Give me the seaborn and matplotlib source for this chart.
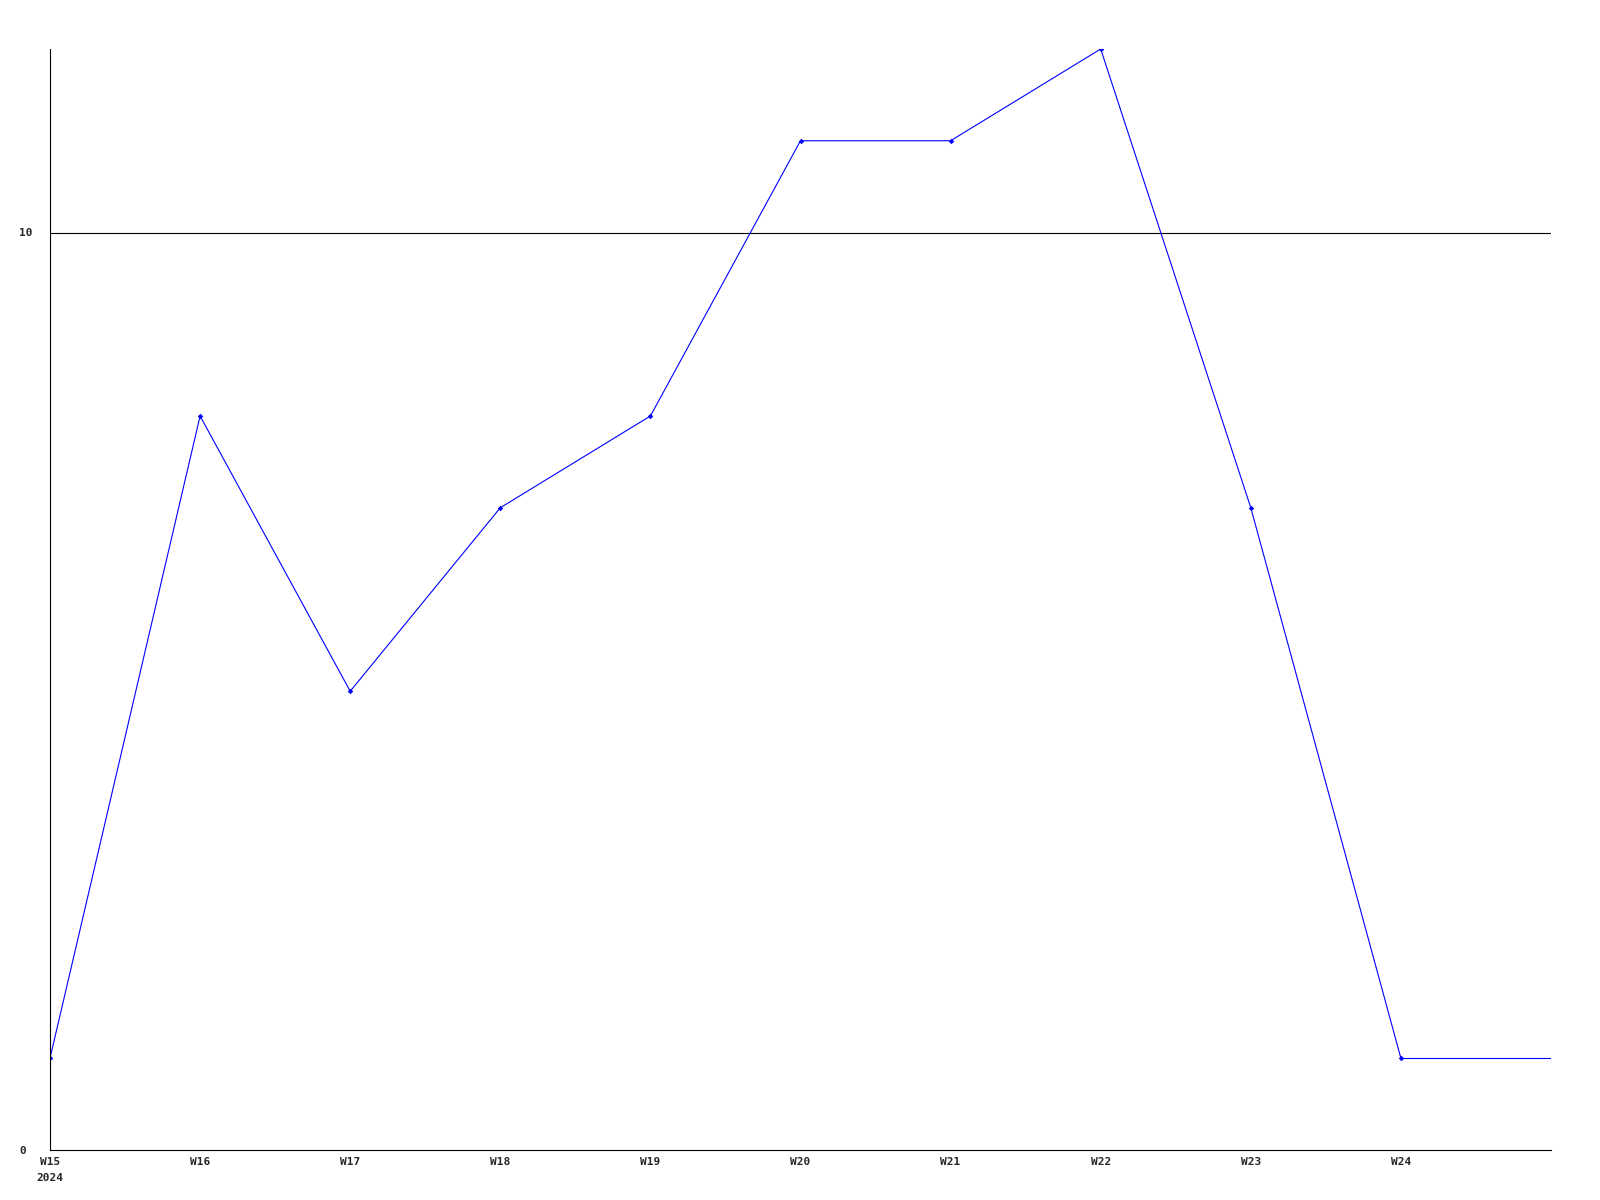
import matplotlib
matplotlib.use('Agg')
import matplotlib.pyplot as plt
import seaborn as sns
import pandas as pd

# weekly counts (last value runs to the right edge)
weeks = ['W15', 'W16', 'W17', 'W18', 'W19', 'W20', 'W21', 'W22', 'W23', 'W24']
week_pos = [0, 1, 2, 3, 4, 5, 6, 7, 8, 9]
counts = [1, 8, 5, 7, 8, 11, 11, 12, 7, 1]
tail_pos = [9, 10]
tail_counts = [1, 1]
year_label = '2024'

sns.set_style('white')
plt.rcParams['font.family'] = ['DejaVu Sans Mono', 'DejaVu Sans']
plt.rcParams['font.weight'] = 'bold'
plt.rcParams['font.size'] = 8

df = pd.DataFrame({'pos': week_pos, 'count': counts})
df_tail = pd.DataFrame({'pos': tail_pos, 'count': tail_counts})

fig = plt.figure(figsize=(16, 12), dpi=100)
ax = fig.add_axes([50 / 1600, 1 - 1150 / 1200, 1501 / 1600, 1101 / 1200])

sns.lineplot(data=df, x='pos', y='count', ax=ax, color='#0000ff', linewidth=0.8,
             marker='D', markersize=2.8, markeredgewidth=0, markerfacecolor='#0000ff')
sns.lineplot(data=df_tail, x='pos', y='count', ax=ax, color='#0000ff', linewidth=0.8)

ax.set_xlim(0, 10)
ax.set_ylim(0, 12)
ax.set_xticks(week_pos)
labels = list(weeks)
labels[0] = weeks[0] + '\n' + year_label
ax.set_xticklabels(labels, fontweight='bold', linespacing=1.7)
ax.set_yticks([0, 10])
ax.set_yticklabels(['0', '10'], fontweight='bold', ha='left')
ax.tick_params(axis='x', length=0, pad=5)
ax.tick_params(axis='y', length=0, pad=22)
ax.axhline(10, color='black', linewidth=0.8, zorder=0)
ax.set_xlabel('')
ax.set_ylabel('')

for side in ['top', 'right']:
    ax.spines[side].set_visible(False)
for side in ['left', 'bottom']:
    ax.spines[side].set_color('black')
    ax.spines[side].set_linewidth(0.8)

fig.savefig('out.png', dpi=100)
